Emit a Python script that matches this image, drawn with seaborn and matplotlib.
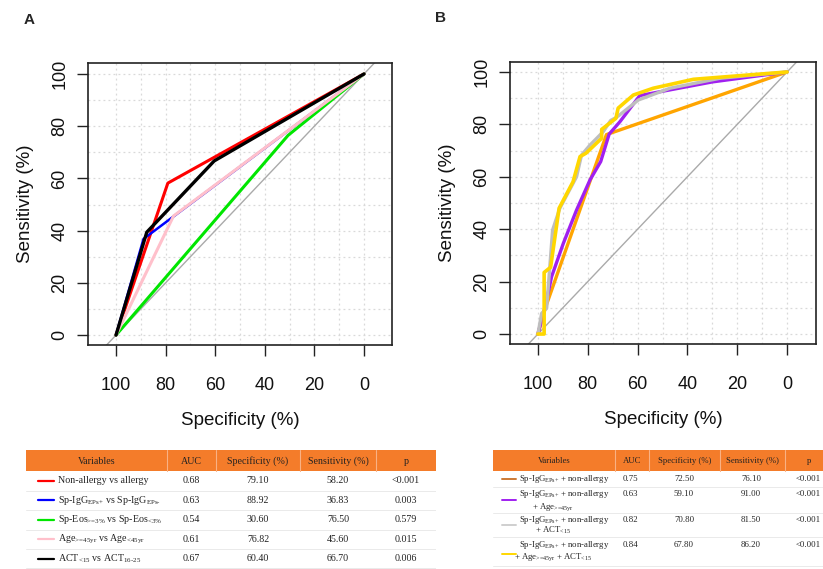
import matplotlib
matplotlib.use('Agg')
import pandas as pd
import seaborn as sns
from matplotlib import pyplot as plt
from matplotlib.patches import Rectangle

# ---- panel A: single markers (specificity %, sensitivity %) ----
a_spec_nonallergy = [100, 79.10, 0]
a_sens_nonallergy = [0, 58.20, 100]
a_spec_igg = [100, 88.92, 0]
a_sens_igg = [0, 36.83, 100]
a_spec_eos = [100, 30.60, 0]
a_sens_eos = [0, 76.50, 100]
a_spec_age = [100, 76.82, 0]
a_sens_age = [0, 45.60, 100]
a_spec_act = [100, 87.6, 60.40, 0]
a_sens_act = [0, 39.4, 66.70, 100]

# ---- panel B: combined models ----
b_spec_igg_na = [100, 97, 72.50, 0]
b_sens_igg_na = [0, 10, 76.10, 100]
b_spec_igg_na_age = [100, 97.1, 94.5, 89.8, 84.5, 79.1, 74.8, 71.4, 67.1, 59.10, 30, 0]
b_sens_igg_na_age = [0, 10.4, 21.9, 34.6, 47.3, 58.8, 65.8, 76.3, 81, 91.00, 96.2, 100]
b_spec_igg_na_act = [100, 98.5, 96.5, 94.1, 91.2, 84.5, 82.5, 79.1, 73.8, 70.80, 68.4,
                     59.7, 47, 26.9, 0]
b_sens_igg_na_act = [0, 7.9, 9.8, 39.7, 48, 60, 68.3, 72.1, 77.2, 81.50, 82.7,
                     89.3, 93.8, 97.6, 100]
b_spec_all = [100, 97.5, 97.5, 94.9, 91.5, 85.9, 83.1, 80.7, 74.4, 74.4, 68.7, 67.80,
              61.7, 53.7, 37.6, 0]
b_sens_all = [0, 0, 23.5, 25.5, 48, 58.1, 67.7, 69, 74.7, 78.1, 82.3, 86.20,
              91.2, 93.8, 97.2, 100]

# ---- tables ----
tab_header = ['Variables', 'AUC', 'Specificity (%)', 'Sensitivity (%)', 'p']

a_labels = ['Non-allergy vs allergy',
            r'Sp-IgG$_{\text{EPs+}}$ vs Sp-IgG$_{\text{EPs-}}$',
            r'Sp-Eos$_{\text{>=3%}}$ vs Sp-Eos$_{\text{<3%}}$',
            r'Age$_{\text{>=45yr}}$ vs Age$_{\text{<45yr}}$',
            r'ACT$_{\text{<15}}$ vs ACT$_{\text{16-25}}$']
a_auc = ['0.68', '0.63', '0.54', '0.61', '0.67']
a_spec_tab = ['79.10', '88.92', '30.60', '76.82', '60.40']
a_sens_tab = ['58.20', '36.83', '76.50', '45.60', '66.70']
a_p = ['<0.001', '0.003', '0.579', '0.015', '0.006']
a_colors = ['#FF0000', '#0000FF', '#00E600', '#FFC0CB', '#000000']

b_labels_1 = [r'Sp-IgG$_{\text{EPs+}}$ + non-allergy',
              r'Sp-IgG$_{\text{EPs+}}$ + non-allergy',
              r'Sp-IgG$_{\text{EPs+}}$ + non-allergy',
              r'Sp-IgG$_{\text{EPs+}}$ + non-allergy']
b_labels_2 = ['',
              r'+ Age$_{\text{>=45yr}}$',
              r'+ ACT$_{\text{<15}}$',
              r'+ Age$_{\text{>=45yr}}$ + ACT$_{\text{<15}}$']
b_auc = ['0.75', '0.63', '0.82', '0.84']
b_spec_tab = ['72.50', '59.10', '70.80', '67.80']
b_sens_tab = ['76.10', '91.00', '81.50', '86.20']
b_p = ['<0.001', '<0.001', '<0.001', '<0.001']
b_colors = ['#FFA500', '#A020F0', '#BEBEBE', '#FFD700']
b_swatch = ['#CD7A35', '#A020F0', '#CFCFCF', '#FFD700']

HEAD = '#F47C2A'

sns.set_theme(style='white')
plt.rcParams['font.family'] = ['Liberation Sans', 'DejaVu Sans']
plt.rcParams['mathtext.fontset'] = 'custom'
plt.rcParams['mathtext.rm'] = 'Liberation Serif'
plt.rcParams['mathtext.it'] = 'Liberation Serif:italic'


def roc_panel(ax, curves, colors, lws, xlim, ylim):
    for x in [0, 20, 40, 60, 80, 100, 10, 30, 50, 70, 90]:
        ax.axvline(x, color='#D9D9D9', lw=0.9, ls=(0, (1.5, 2.5)), zorder=0)
        ax.axhline(x, color='#D9D9D9', lw=0.9, ls=(0, (1.5, 2.5)), zorder=0)
    ax.axline((100, 0), (0, 100), color='#AAAAAA', lw=1.0, zorder=1)
    for (sp, se), c, lw in zip(curves, colors, lws):
        df = pd.DataFrame({'spec': sp, 'sens': se})
        sns.lineplot(data=df, x='spec', y='sens', ax=ax, sort=False,
                     estimator=None, color=c, lw=lw, zorder=3)
    ax.set_xlim(*xlim)
    ax.set_ylim(*ylim)
    ticks = [100, 80, 60, 40, 20, 0]
    ax.set_xticks(ticks)
    ax.set_yticks(ticks)
    ax.set_xticklabels([str(t) for t in ticks])
    ax.set_yticklabels([str(t) for t in ticks], rotation=90, va='center')
    ax.tick_params(axis='both', direction='out', length=8, width=1,
                   bottom=True, left=True, top=False, right=False,
                   color='#222222', labelsize=13, labelcolor='#111111')
    ax.tick_params(axis='x', pad=15)
    ax.tick_params(axis='y', pad=6)
    ax.set_xlabel('Specificity (%)', fontsize=13.5, labelpad=13, color='#111111')
    ax.set_ylabel('Sensitivity (%)', fontsize=13.5, labelpad=13, color='#111111')
    for s in ax.spines.values():
        s.set_color('#222222')
        s.set_linewidth(1.2)
        s.set_visible(True)


fig = plt.figure(figsize=(8.23, 5.69), dpi=100)
W, H = 823, 569

ax_a = fig.add_axes([88 / W, 1 - 345 / H, 304 / W, 282 / H])
roc_panel(ax_a,
          [(a_spec_nonallergy, a_sens_nonallergy), (a_spec_igg, a_sens_igg),
           (a_spec_eos, a_sens_eos), (a_spec_age, a_sens_age),
           (a_spec_act, a_sens_act)],
          a_colors, [2.2, 1.8, 2.2, 2.2, 2.4],
          (111.3, -11.3), (-3.8, 104.2))

ax_b = fig.add_axes([510 / W, 1 - 344 / H, 306 / W, 282 / H])
roc_panel(ax_b,
          [(b_spec_igg_na, b_sens_igg_na), (b_spec_igg_na_age, b_sens_igg_na_age),
           (b_spec_igg_na_act, b_sens_igg_na_act), (b_spec_all, b_sens_all)],
          b_colors, [2.4, 2.4, 2.4, 2.6],
          (111.2, -11.6), (-3.8, 103.8))

fig.text(29.5 / W, 1 - 19.5 / H, 'A', fontsize=11, fontweight='bold',
         ha='center', va='center')
fig.text(440.5 / W, 1 - 18.5 / H, 'B', fontsize=11, fontweight='bold',
         ha='center', va='center')

serif = ['Liberation Serif', 'DejaVu Serif']

# ---- table A ----
ta = fig.add_axes([26 / W, 0, 410 / W, 119 / H])
ta.set_xlim(26, 436)
ta.set_ylim(569, 450)
ta.axis('off')
cols_a = [26, 167, 216, 300, 376, 436]
ta.add_patch(Rectangle((26, 450), 410, 21, color=HEAD, lw=0))
for x in cols_a[1:-1]:
    ta.plot([x, x], [450, 471], color='#F9B184', lw=0.8)
for i, h in enumerate(tab_header):
    ta.text((cols_a[i] + cols_a[i + 1]) / 2, 461, h, family=serif, fontsize=7.2,
            ha='center', va='center', color='#222222')
row_a = [471, 490.5, 510, 529.5, 549, 568]
for i in range(len(a_labels)):
    yc = (row_a[i] + row_a[i + 1]) / 2
    ta.plot([38, 54], [yc, yc], color=a_colors[i], lw=1.6)
    ta.text(57.5, yc, a_labels[i], family=serif, fontsize=7.2, ha='left',
            va='center', color='#222222')
    for j, v in enumerate([a_auc[i], a_spec_tab[i], a_sens_tab[i], a_p[i]]):
        ta.text((cols_a[j + 1] + cols_a[j + 2]) / 2, yc, v, family=serif,
                fontsize=7.2, ha='center', va='center', color='#222222')
    ta.plot([26, 436], [row_a[i + 1], row_a[i + 1]], color='#E6E6E6', lw=0.6)

# ---- table B ----
tb = fig.add_axes([493 / W, 0, 330 / W, 119 / H])
tb.set_xlim(493, 823)
tb.set_ylim(569, 450)
tb.axis('off')
cols_b = [493, 615, 649, 720, 785, 833]
tb.add_patch(Rectangle((493, 450), 340, 21, color=HEAD, lw=0, clip_on=False))
for x in cols_b[1:-1]:
    tb.plot([x, x], [450, 471], color='#F9B184', lw=0.8)
for i, h in enumerate(tab_header):
    tb.text((cols_b[i] + cols_b[i + 1]) / 2, 461, h, family=serif, fontsize=6.3,
            ha='center', va='center', color='#222222')
row_b = [471, 487, 513, 537, 566]
line1_y = [479, 494.5, 519.5, 545]
line2_y = [479, 507, 530, 557]
swatch_y = [479, 500, 525, 554]
for i in range(len(b_labels_1)):
    tb.plot([502, 516], [swatch_y[i], swatch_y[i]], color=b_swatch[i], lw=1.4)
    tb.text(519, line1_y[i], b_labels_1[i], family=serif, fontsize=6.3,
            ha='left', va='center', color='#222222')
    if b_labels_2[i]:
        tb.text(553, line2_y[i], b_labels_2[i], family=serif, fontsize=6.3,
                ha='center', va='center', color='#222222')
    for j, v in enumerate([b_auc[i], b_spec_tab[i], b_sens_tab[i], b_p[i]]):
        xc = [630, 684, 751, 808][j]
        tb.text(xc, line1_y[i], v, family=serif, fontsize=6.3,
                ha='center', va='center', color='#222222')
    tb.plot([493, 823], [row_b[i + 1], row_b[i + 1]], color='#E6E6E6', lw=0.6)

fig.savefig('out.png', dpi=100)
